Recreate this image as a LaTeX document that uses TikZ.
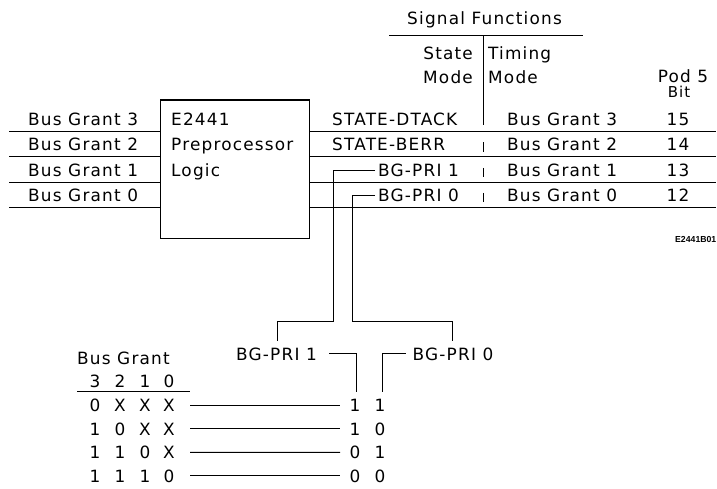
\documentclass[tikz,border=0pt]{standalone}
\usepackage{fontspec}
\usetikzlibrary{calc}
\newfontfamily\hpfont{DejaVu Sans}[LetterSpace=7]
\newfontfamily\tagfont{Liberation Sans}
\begin{document}
\begin{tikzpicture}[x=1pt,y=-1pt,
  lbl/.style={inner sep=0pt, font=\hpfont\fontsize{16.9}{18}\selectfont},
  small/.style={inner sep=0pt, font=\hpfont\fontsize{15}{16}\selectfont},
  tag/.style={inner sep=0pt, font=\tagfont\bfseries\fontsize{8.7}{9}\selectfont},
  wire/.style={line width=1pt},
  blockbox/.style={draw, line width=1.2pt, inner sep=0pt, anchor=north west}]
\useasboundingbox (0,0) rectangle (717,489);

% ---- preprocessor block -------------------------------------------------
\node[blockbox, minimum width=149pt, minimum height=138.5pt] (pre) at (159.5,99.5) {};
\node[lbl, anchor=base west] (t1) at (171,125.7) {E2441};
\node[lbl, anchor=base west] (t2) at (171,150.7) {Preprocessor};
\node[lbl, anchor=base west] (t3) at (171,176.3) {Logic};

% ---- bus lines in and out -----------------------------------------------
\foreach \n/\y in {3/131.7, 2/156.7, 1/182.3, 0/207.3}{
  \coordinate (in\n) at (9,\y);
  \coordinate (out\n) at (716,\y);
  \draw[wire] (in\n) -- (in\n -| pre.west);
  \draw[wire] (pre.east |- out\n) -- (out\n);
}
\foreach \n/\y in {3/125.7, 2/150.7, 1/176.3, 0/201.3}{
  \node[lbl, anchor=base west] (bg\n) at (28,\y) {Bus Grant \n};
  \node[lbl, anchor=base west] (tm\n) at (507,\y) {Bus Grant \n};
}
\node[lbl, anchor=base] (p15) at (678,125.7) {15};
\node[lbl, anchor=base] (p14) at (678,150.7) {14};
\node[lbl, anchor=base] (p13) at (678,176.3) {13};
\node[lbl, anchor=base] (p12) at (678,201.3) {12};

% ---- state mode column --------------------------------------------------
\node[lbl, anchor=base west] (sdt) at (332,125.7) {STATE-DTACK};
\node[lbl, anchor=base west] (sbe) at (332,150.7) {STATE-BERR};
\node[lbl, anchor=base west, inner xsep=3pt] (pri1) at (375,176.3) {BG-PRI 1};
\node[lbl, anchor=base west, inner xsep=3pt] (pri0) at (375,201.3) {BG-PRI 0};

% ---- column headings ----------------------------------------------------
\node[lbl, anchor=base] (sf) at (484.5,25) {Signal Functions};
\coordinate (hl) at (389,36);
\coordinate (hr) at (583,36);
\draw[wire] (hl) -- (hr);
\coordinate (dtop) at (483,36);
\coordinate (dbot) at (483,125);
\draw[wire] (dtop) -- (dbot);
\node[lbl, anchor=base east] (st) at (473,59.3) {State};
\node[lbl, anchor=base east] (sm) at (473,83.3) {Mode};
\node[lbl, anchor=base west] (ti) at (488,59.3) {Timing};
\node[lbl, anchor=base west] (tmo) at (488,83.3) {Mode};
\node[lbl, anchor=base] (pod) at (683,82.5) {Pod 5};
\node[small, anchor=base] (bit) at (679,97.5) {Bit};
\foreach \ya/\yb in {142.5/152, 168/177.5, 193/202.5}{
  \draw[wire] (483,\ya) -- (483,\yb);
}

\node[tag, anchor=base east] (fig) at (716.5,242.5) {E2441B01};

% ---- priority outputs routed down to the table --------------------------
\node[lbl, anchor=base east, inner xsep=12pt] (bb1) at (329,360) {BG-PRI 1};
\node[lbl, anchor=base west, inner xsep=7pt] (bb0) at (405.5,360) {BG-PRI 0};
\coordinate (ka) at (333,321.7);
\coordinate (kb) at (277,340.7);
\coordinate (kd) at (352,321.7);
\coordinate (ke) at (452,340.7);
\coordinate (kc) at (356,392);
\coordinate (kf) at (382,392);
\draw[wire] (pri1.west) -| (ka) -| (kb);
\draw[wire] (pri0.west) -| (kd) -| (ke);
\draw[wire] (bb1.east) -| (kc);
\draw[wire] (bb0.west) -| (kf);

% ---- priority truth table -----------------------------------------------
\node[lbl, anchor=base west] (bgh) at (77,364) {Bus Grant};
\foreach \d/\x in {3/95, 2/120, 1/145, 0/169}{
  \node[lbl, anchor=base] (h\d) at (\x,387) {\d};
}
\coordinate (ul) at (77,391);
\coordinate (ur) at (190,391);
\draw[wire] (ul) -- (ur);
\foreach \r/\y/\a/\b/\c/\d/\p/\q in {1/411.5/0/X/X/X/1/1, 2/435/1/0/X/X/1/0,
                                    3/458.5/1/1/0/X/0/1, 4/482/1/1/1/0/0/0}{
  \node[lbl, anchor=base] (r\r c1) at (95,\y) {\a};
  \node[lbl, anchor=base] (r\r c2) at (120,\y) {\b};
  \node[lbl, anchor=base] (r\r c3) at (145,\y) {\c};
  \node[lbl, anchor=base] (r\r c4) at (169,\y) {\d};
  \node[lbl, anchor=base] (r\r o1) at (355,\y) {\p};
  \node[lbl, anchor=base] (r\r o2) at (380,\y) {\q};
  \draw[wire] ([xshift=21pt]r\r c4.center) -- ([xshift=-15pt]r\r o1.center);
}
\end{tikzpicture}
\end{document}
